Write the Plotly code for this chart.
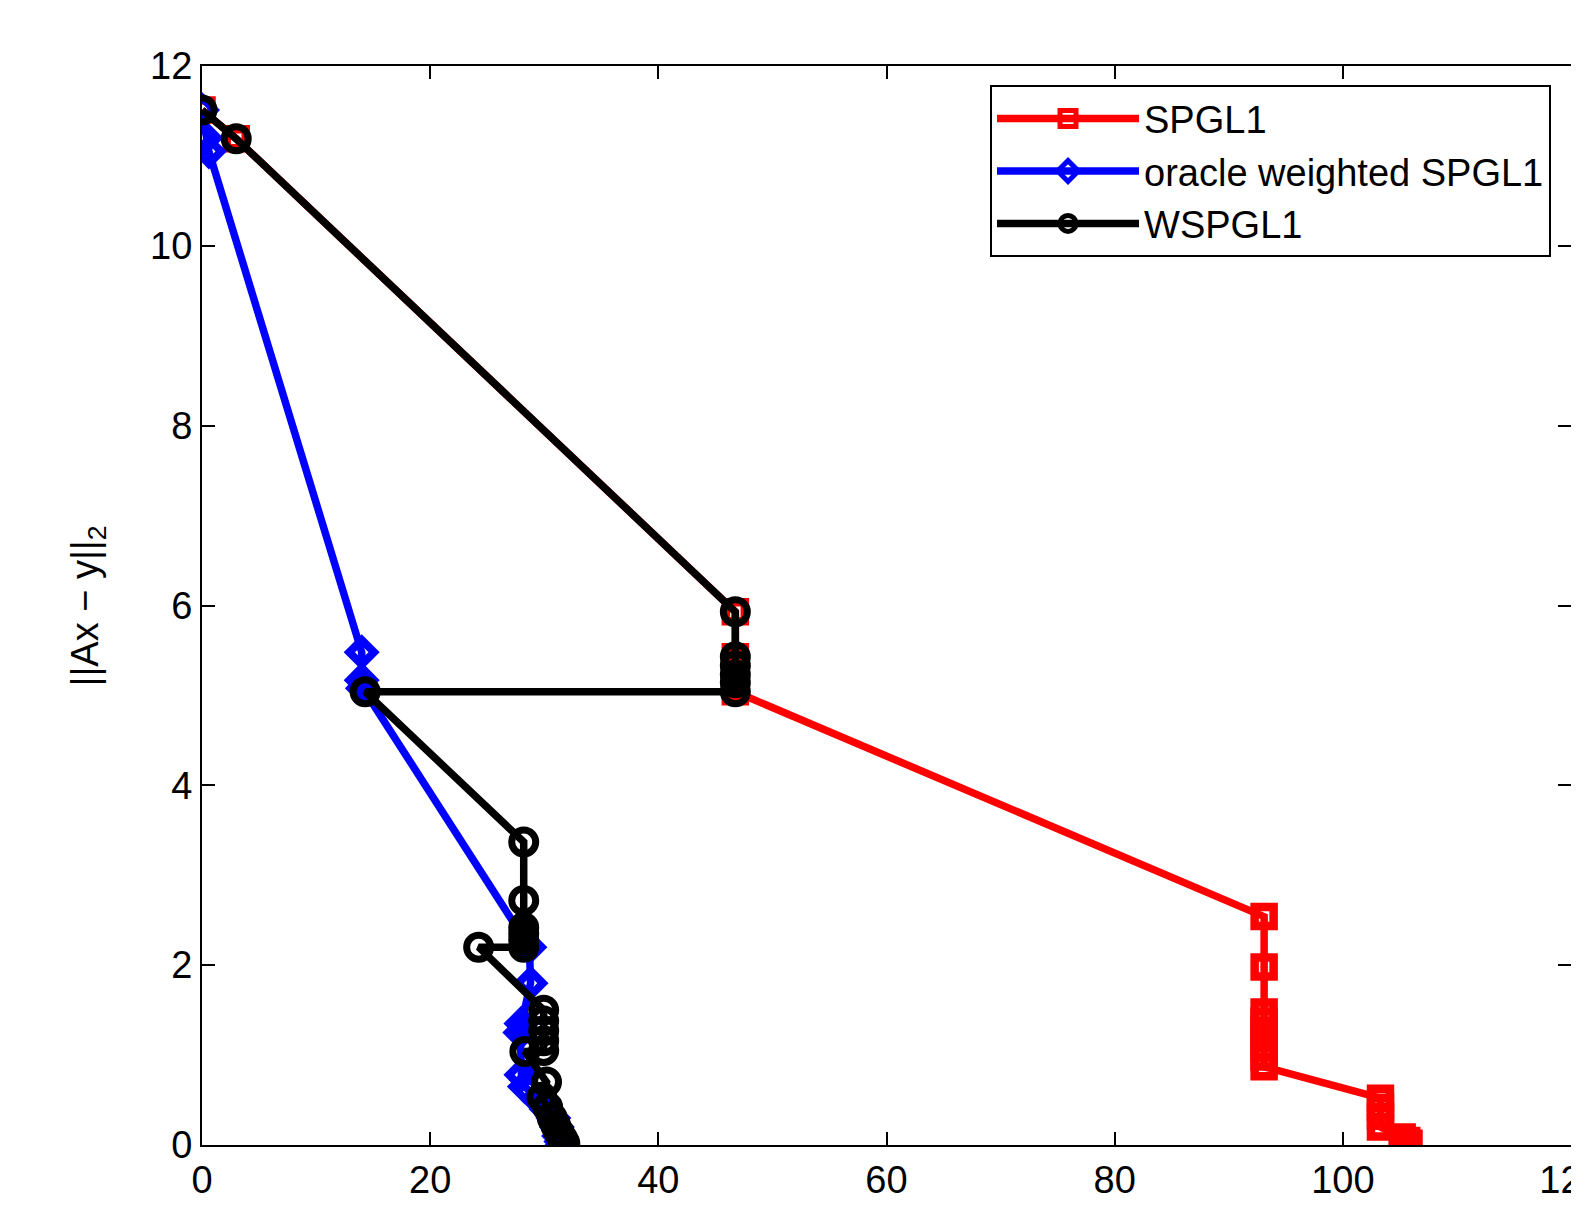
import plotly.graph_objects as go

# ---- data ----
spgl1_x = [0, 3.0, 46.75, 46.75, 46.75, 46.75, 46.75, 46.75,
           93.1, 93.1, 93.1, 93.1, 93.1, 93.1, 93.1, 93.1, 93.1,
           103.3, 103.3, 103.3, 103.3, 105.2, 105.6, 105.8]
spgl1_y = [11.51, 11.19, 5.93, 5.43, 5.33, 5.23, 5.14, 5.04,
           2.54, 1.98, 1.48, 1.38, 1.28, 1.18, 1.08, 0.98, 0.87,
           0.52, 0.42, 0.32, 0.20, 0.09, 0.05, 0.02]

oracle_x = [0, 0.3, 0.6, 14.0, 14.0, 14.1, 28.7, 28.8, 28.0, 27.9,
            28.0, 28.3, 29.5, 30.2, 30.8, 31.1, 31.3, 31.5, 31.6]
oracle_y = [11.51, 11.2, 11.05, 5.48, 5.17, 5.08, 2.2, 1.8, 1.35, 1.25,
            0.78, 0.65, 0.5, 0.4, 0.3, 0.2, 0.1, 0.04, 0.0]

wspgl1_x = [0, 3.0, 46.75, 46.75, 46.75, 46.75, 46.75, 46.75, 14.3,
            28.2, 28.2, 28.2, 28.2, 28.2, 28.2, 24.25,
            29.95, 29.95, 29.95, 29.95, 29.95, 28.3,
            30.2, 29.8, 30.3, 30.7, 31.0, 31.3, 31.6, 31.8]
wspgl1_y = [11.51, 11.19, 5.93, 5.43, 5.33, 5.23, 5.14, 5.04, 5.04,
            3.37, 2.72, 2.42, 2.35, 2.28, 2.2, 2.2,
            1.5, 1.38, 1.27, 1.16, 1.05, 1.04,
            0.7, 0.53, 0.42, 0.3, 0.22, 0.14, 0.07, 0.02]

series_names = ["SPGL1", "oracle weighted SPGL1", "WSPGL1"]
x_ticks = [0, 20, 40, 60, 80, 100, 120]
y_ticks = [0, 2, 4, 6, 8, 10, 12]

FONT = "Liberation Sans, Arial, Helvetica, sans-serif"

fig = go.Figure()
fig.add_trace(go.Scatter(
    x=spgl1_x, y=spgl1_y, name=series_names[0], mode="lines+markers",
    line=dict(color="#ff0000", width=7.5),
    marker=dict(symbol="square-open", size=19, color="#ff0000",
                line=dict(color="#ff0000", width=8.5)),
))
fig.add_trace(go.Scatter(
    x=oracle_x, y=oracle_y, name=series_names[1], mode="lines+markers",
    line=dict(color="#0000ff", width=7.5),
    marker=dict(symbol="diamond-open", size=19, color="#0000ff",
                line=dict(color="#0000ff", width=8)),
))
fig.add_trace(go.Scatter(
    x=wspgl1_x, y=wspgl1_y, name=series_names[2], mode="lines+markers",
    line=dict(color="#000000", width=7.5),
    marker=dict(symbol="circle-open", size=24, color="#000000",
                line=dict(color="#000000", width=7)),
))

axis_common = dict(
    showgrid=False, zeroline=False, showline=True, linecolor="black",
    linewidth=2, mirror="allticks", ticks="inside", ticklen=13,
    tickwidth=1.5, tickcolor="black", ticklabeloverflow="allow",
    automargin=False,
    tickfont=dict(family=FONT, size=38, color="black"),
)

fig.update_xaxes(range=[0, 120], tickvals=x_ticks,
                 ticktext=[str(v) for v in x_ticks], **axis_common)
fig.update_yaxes(range=[0, 12], tickvals=y_ticks,
                 ticktext=[str(v) for v in y_ticks], **axis_common)

fig.add_annotation(
    text="||Ax \u2212 y||<sub>2</sub>", xref="paper", yref="paper",
    x=-0.0833, y=0.5, xanchor="center", yanchor="middle", textangle=-90,
    showarrow=False, font=dict(family=FONT, size=38, color="black"),
)
fig.add_annotation(
    text="\u03c4", xref="paper", yref="paper",
    x=0.5, y=-0.056, xanchor="center", yanchor="top",
    showarrow=False, font=dict(family=FONT, size=38, color="black"),
)

fig.update_layout(
    width=1571, height=1209,
    margin=dict(l=194, r=8, t=58, b=72, pad=0, autoexpand=False),
    plot_bgcolor="white", paper_bgcolor="white",
    font=dict(family=FONT, color="black"),
    legend=dict(
        x=0.9854, y=0.982, xanchor="right", yanchor="top",
        bgcolor="white", bordercolor="black", borderwidth=2,
        font=dict(family=FONT, size=38, color="black"),
        itemwidth=142, tracegroupgap=0,
    ),
    showlegend=True,
)

fig.write_html("out.html")
